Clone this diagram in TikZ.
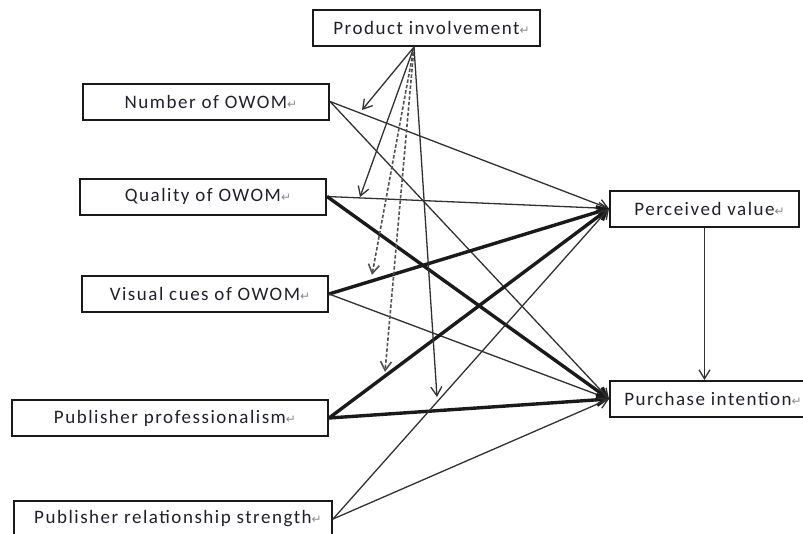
\documentclass[tikz,border=0pt]{standalone}
\usepackage{fontspec}
\setmainfont{Carlito}[LetterSpace=8]
\newfontfamily\markfont{DejaVu Sans}
\usetikzlibrary{arrows.meta}
\definecolor{inkline}{HTML}{1A1A1A}
\definecolor{inktext}{HTML}{20202A}
% Word-style paragraph mark after each label
\newcommand{\pmark}{{\markfont\fontsize{12}{12}\selectfont\color{black!45}\char"21B5}}
\newcommand{\lbl}[1]{\raisebox{-2pt}{\hspace*{10pt}#1\pmark}}

\begin{document}
\begin{tikzpicture}[x=1pt,y=-1pt,
  box/.style={draw=inkline,line width=2pt,minimum height=36pt,inner sep=0pt,
    font=\fontsize{19}{21}\selectfont,text=inktext},
  tip/.style={-{Straight Barb[length=9pt,width=11pt]}},
  thinarrow/.style={draw=inkline!90,line width=1.3pt,tip},
  thickarrow/.style={draw=inkline,line width=3.4pt,tip},
  modarrow/.style={draw=inkline!90,line width=1.3pt,tip},
  dasharrow/.style={draw=inkline!75,line width=1.6pt,dash pattern=on 3.5pt off 2pt,tip}]
\useasboundingbox (0,0) rectangle (803,533);
\clip (0,0) rectangle (803,533);

% boxes
\node[box,minimum width=227pt] (inv)  at (426.5,28)  {\lbl{Product involvement}};
\node[box,minimum width=246pt] (num)  at (206,101.5) {\lbl{Number of OWOM}};
\node[box,minimum width=246pt] (qual) at (203,196.5) {\lbl{Quality of OWOM}};
\node[box,minimum width=246pt] (vis)  at (205,294)   {\lbl{Visual cues of OWOM}};
\node[box,minimum width=316pt] (prof) at (170,418)   {\lbl{Publisher professionalism}};
\node[box,minimum width=318pt] (rel)  at (173,519)   {\lbl{Publisher relationship strength}};
\node[box,minimum width=189pt] (pv)   at (704.5,208.5) {\lbl{Perceived value}};
\node[box,minimum width=196pt] (pint) at (708,399)   {\lbl{Purchase intention}};

% paths into the two outcomes
\draw[thinarrow]  (num.east)  -- (pv.west);
\draw[thinarrow]  (num.east)  -- (pint.west);
\draw[thinarrow]  (qual.east) -- (pv.west);
\draw[thickarrow] (qual.east) -- (pint.west);
\draw[thickarrow] (vis.east)  -- (pv.west);
\draw[thinarrow]  (vis.east)  -- (pint.west);
\draw[thickarrow] (prof.east) -- (pv.west);
\draw[thickarrow] (prof.east) -- (pint.west);
\draw[thinarrow]  (rel.east)  -- (pv.west);
\draw[thinarrow]  (rel.east)  -- (pint.west);
\draw[thinarrow]  (pv.south)  -- (pv.south |- pint.north);

% moderating effects of product involvement
\coordinate (src) at (414,47);
\coordinate (m1) at (362,110);
\coordinate (m2) at (360,197);
\coordinate (m3) at (372,275);
\coordinate (m4) at (385,372);
\coordinate (m5) at (437,397);
\draw[modarrow]  (src) -- (m1);
\draw[modarrow]  (src) -- (m2);
\draw[dasharrow] (src) -- (m3);
\draw[dasharrow] (src) -- (m4);
\draw[modarrow]  (src) -- (m5);
\end{tikzpicture}
\end{document}
